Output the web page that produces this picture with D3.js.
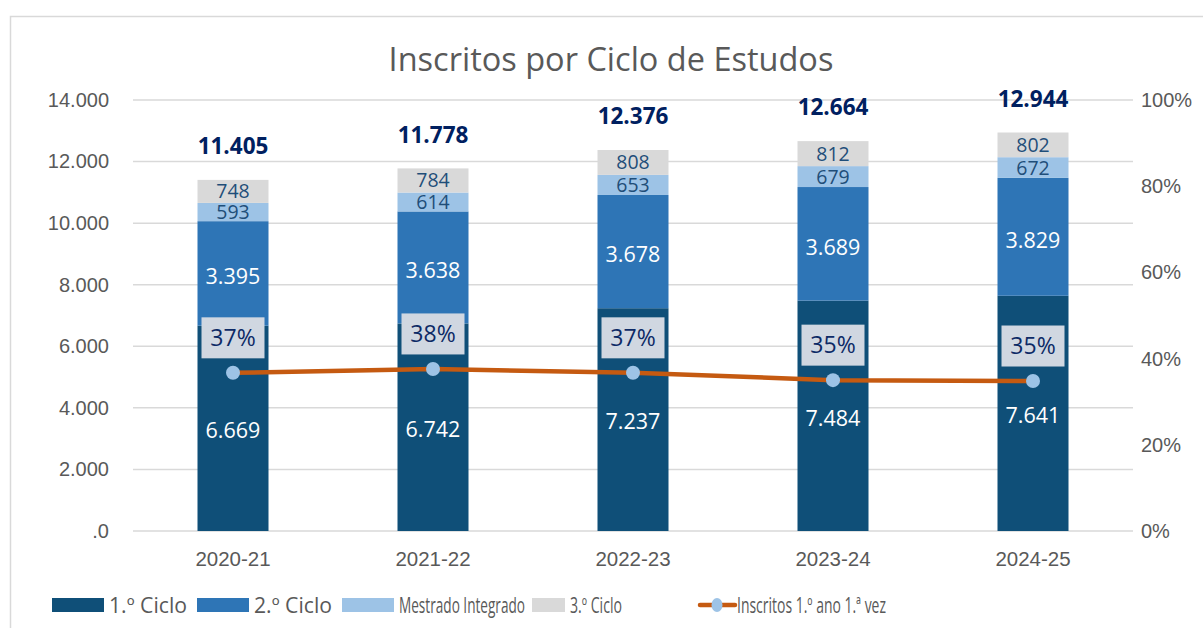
<!DOCTYPE html>
<html>
<head>
<meta charset="utf-8">
<script src="https://cdn.jsdelivr.net/npm/d3@7"></script>
<style>
  body { margin: 0; background: #fff; }
  svg { font-family: "Open Sans", "Noto Sans", sans-serif; }
</style>
</head>
<body>
<svg id="chart" width="1203" height="628"></svg>
<script>
// --- Data ---
const years = ["2020-21", "2021-22", "2022-23", "2023-24", "2024-25"];
const ciclo1 = [6669, 6742, 7237, 7484, 7641];
const ciclo2 = [3395, 3638, 3678, 3689, 3829];
const mestrado = [593, 614, 653, 679, 672];
const ciclo3 = [748, 784, 808, 812, 802];
const totals = [11405, 11778, 12376, 12664, 12944];
const primeiraVez = [0.367, 0.376, 0.367, 0.350, 0.348]; // share on right axis
const leftTicks = [0, 2000, 4000, 6000, 8000, 10000, 12000, 14000];
const rightTicks = [0, 0.2, 0.4, 0.6, 0.8, 1.0];

const seriesNames = ["1.º Ciclo", "2.º Ciclo", "Mestrado Integrado", "3.º Ciclo"];
const seriesColors = ["#0F4F78", "#2E75B6", "#9DC3E6", "#D9D9D9"];
const labelColors = ["#ffffff", "#ffffff", "#1F4E79", "#1F4E79"];

const svg = d3.select("#chart");

// chart frame
svg.append("rect")
    .attr("x", 10.5).attr("y", 16.5)
    .attr("width", 1300).attr("height", 700)
    .attr("fill", "none").attr("stroke", "#D9D9D9").attr("stroke-width", 1.5);

const plot = { left: 133, right: 1133, top: 100, bottom: 531 };

const x = d3.scaleBand().domain(years).range([plot.left, plot.right]).paddingInner(0.645).paddingOuter(0.3225);
const y = d3.scaleLinear().domain([0, 14000]).range([plot.bottom, plot.top]);
const yR = d3.scaleLinear().domain([0, 1]).range([plot.bottom, plot.top]);

// title
svg.append("text")
    .attr("x", 611).attr("y", 71)
    .attr("text-anchor", "middle")
    .attr("fill", "#595959")
    .style("font-size", "32.5px")
    .text("Inscritos por Ciclo de Estudos");

// gridlines
svg.append("g").selectAll("line")
    .data(leftTicks).enter().append("line")
    .attr("x1", plot.left).attr("x2", plot.right)
    .attr("y1", d => y(d)).attr("y2", d => y(d))
    .attr("stroke", "#D9D9D9").attr("stroke-width", 1.5);

// left axis
const fmt = d => d === 0 ? ".0" : d3.format(",")(d).replace(/,/g, ".");
const leftAxis = svg.append("g")
    .attr("transform", `translate(${plot.left - 24},0)`)
    .call(d3.axisLeft(y).tickValues(leftTicks).tickFormat(fmt).tickSize(0).tickPadding(0));
leftAxis.select(".domain").remove();
leftAxis.selectAll("text").attr("fill", "#595959").style("font-size", "20px").style("font-family", null);

// right axis
const rightAxis = svg.append("g")
    .attr("transform", `translate(${plot.right + 8},0)`)
    .call(d3.axisRight(yR).tickValues(rightTicks).tickFormat(d3.format(".0%")).tickSize(0).tickPadding(0));
rightAxis.select(".domain").remove();
rightAxis.selectAll("text").attr("fill", "#595959").style("font-size", "20px").style("font-family", null);

// x axis
const xAxis = svg.append("g")
    .attr("transform", `translate(0,${plot.bottom + 20})`)
    .call(d3.axisBottom(x).tickSize(0).tickPadding(0));
xAxis.select(".domain").remove();
xAxis.selectAll("text").attr("fill", "#595959").style("font-size", "20.5px").style("font-family", null);

// stacked bars
const rows = years.map((yr, i) => ({ year: yr, s0: ciclo1[i], s1: ciclo2[i], s2: mestrado[i], s3: ciclo3[i] }));
const stack = d3.stack().keys(["s0", "s1", "s2", "s3"])(rows);

const layers = svg.append("g").selectAll("g")
    .data(stack).enter().append("g")
    .attr("fill", (d, i) => seriesColors[i]);

layers.selectAll("rect")
    .data(d => d).enter().append("rect")
    .attr("x", d => x(d.data.year))
    .attr("width", x.bandwidth())
    .attr("y", d => y(d[1]))
    .attr("height", d => y(d[0]) - y(d[1]));

// segment labels
const fmtN = d => d3.format(",")(d).replace(/,/g, ".");
stack.forEach((layer, li) => {
    svg.append("g").selectAll("text")
        .data(layer).enter().append("text")
        .attr("x", d => x(d.data.year) + x.bandwidth() / 2)
        .attr("y", d => (y(d[0]) + y(d[1])) / 2 + (li === 0 ? 2 : li === 1 ? 3 : 0))
        .attr("dy", "0.36em")
        .attr("text-anchor", "middle")
        .attr("fill", labelColors[li])
        .style("font-size", li < 2 ? "21.5px" : "19.5px")
        .text(d => fmtN(d[1] - d[0]));
});

// totals
svg.append("g").selectAll("text")
    .data(totals).enter().append("text")
    .attr("x", (d, i) => x(years[i]) + x.bandwidth() / 2)
    .attr("y", d => y(d) - 34)
    .attr("dy", "0.36em")
    .attr("text-anchor", "middle")
    .attr("fill", "#002060")
    .style("font-size", "22.5px")
    .style("font-weight", "bold")
    .text(d => fmtN(d));

// line
const cx = (d, i) => x(years[i]) + x.bandwidth() / 2;
const line = d3.line().x(cx).y(d => yR(d));
svg.append("path")
    .datum(primeiraVez)
    .attr("d", line)
    .attr("fill", "none")
    .attr("stroke", "#C55A11")
    .attr("stroke-width", 4.5);

svg.append("g").selectAll("circle")
    .data(primeiraVez).enter().append("circle")
    .attr("cx", cx).attr("cy", d => yR(d))
    .attr("r", 7)
    .attr("fill", "#9DC3E6");

// percent label boxes
const pctG = svg.append("g").selectAll("g")
    .data(primeiraVez).enter().append("g")
    .attr("transform", (d, i) => `translate(${cx(d, i)},${yR(d) - 35})`);
pctG.append("rect")
    .attr("x", -31.5).attr("y", -20.5)
    .attr("width", 63).attr("height", 41)
    .attr("fill", "#D0D7E1");
pctG.append("text")
    .attr("text-anchor", "middle")
    .attr("dy", "0.36em")
    .attr("fill", "#0D2A66")
    .style("font-size", "23px")
    .text(d => Math.round(d * 100) + "%");

// legend
const legendItems = [
    { name: seriesNames[0], color: seriesColors[0], x: 52, w: 52, tw: 78 },
    { name: seriesNames[1], color: seriesColors[1], x: 197, w: 52, tw: 78 },
    { name: seriesNames[2], color: seriesColors[2], x: 342, w: 52, tw: 126 },
    { name: seriesNames[3], color: seriesColors[3], x: 532, w: 33, tw: 52 }
];
const legend = svg.append("g");
legendItems.forEach(it => {
    legend.append("rect")
        .attr("x", it.x).attr("y", 598)
        .attr("width", it.w).attr("height", 14)
        .attr("fill", it.color);
    legend.append("text")
        .attr("x", it.x + it.w + 5).attr("y", 605)
        .attr("dy", "0.36em")
        .attr("fill", "#595959")
        .attr("textLength", it.tw)
        .attr("lengthAdjust", "spacingAndGlyphs")
        .style("font-size", "21px")
        .text(it.name);
});
legend.append("line")
    .attr("x1", 700).attr("x2", 735).attr("y1", 605).attr("y2", 605)
    .attr("stroke", "#C55A11").attr("stroke-width", 4.5).attr("stroke-linecap", "round");
legend.append("ellipse")
    .attr("cx", 717).attr("cy", 605).attr("rx", 5.5).attr("ry", 7)
    .attr("fill", "#9DC3E6");
legend.append("text")
    .attr("x", 737).attr("y", 605)
    .attr("dy", "0.36em")
    .attr("fill", "#595959")
    .attr("textLength", 149)
    .attr("lengthAdjust", "spacingAndGlyphs")
    .style("font-size", "21px")
    .text("Inscritos 1.º ano 1.ª vez");
</script>
</body>
</html>
